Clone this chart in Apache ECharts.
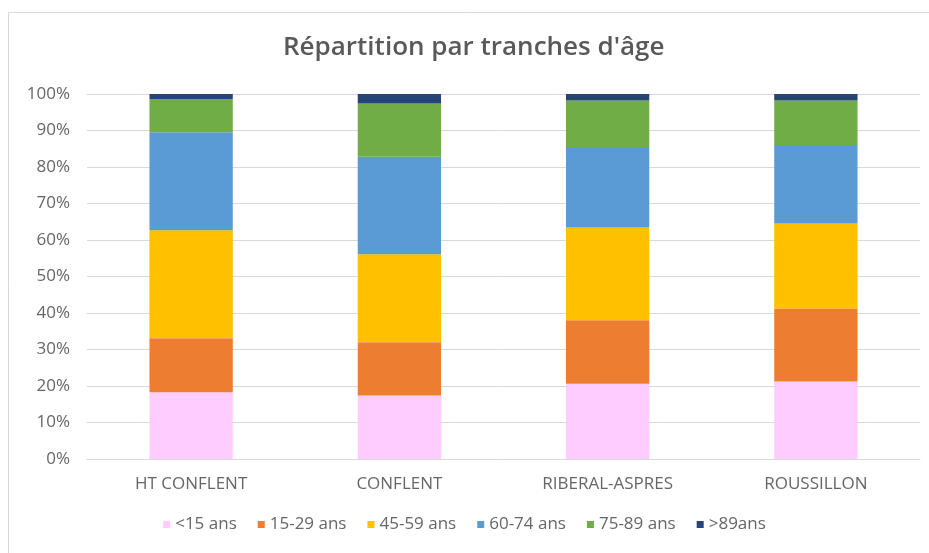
<!DOCTYPE html>
<html><head><meta charset="utf-8">
<script src="https://cdn.jsdelivr.net/npm/echarts@6/dist/echarts.min.js"></script>
<style>html,body{margin:0;padding:0;background:#fff}#c{width:929px;height:553px}</style>
</head><body><div id="c"></div>
<script>
const categories = ['HT CONFLENT', 'CONFLENT', 'RIBERAL-ASPRES', 'ROUSSILLON'];
const seriesNames = ['<15 ans', '15-29 ans', '45-59 ans', '60-74 ans', '75-89 ans', '>89ans'];
const under15 = [18.3, 17.4, 20.6, 21.2];
const age15to29 = [14.8, 14.6, 17.4, 20.0];
const age45to59 = [29.6, 24.1, 25.4, 23.3];
const age60to74 = [26.8, 26.7, 22.1, 21.5];
const age75to89 = [9.1, 14.6, 12.7, 12.2];
const over89 = [1.4, 2.6, 1.8, 1.8];
const colors = ['#FFCCFF', '#ED7D31', '#FFC000', '#5B9BD5', '#70AD47', '#264478'];
const values = [under15, age15to29, age45to59, age60to74, age75to89, over89];

const chart = echarts.init(document.getElementById('c'), null, {renderer: 'canvas'});
const font = 'Open Sans, sans-serif';
chart.setOption({
  animation: false,
  backgroundColor: '#fff',
  title: {
    text: "Répartition par tranches d'âge",
    left: 278, top: 30,
    textStyle: {color: '#595959', fontSize: 26, fontWeight: 600, fontFamily: font}
  },
  graphic: [{
    type: 'rect', shape: {x: 8.5, y: 12.5, width: 940, height: 560},
    style: {fill: 'none', stroke: '#d9d9d9', lineWidth: 1}, silent: true, z: -1
  }],
  legend: {
    bottom: 15, left: 'center', itemWidth: 7, itemHeight: 7, itemGap: 21,
    icon: 'rect',
    textStyle: {color: '#666666', fontSize: 17, fontFamily: font},
    data: seriesNames
  },
  grid: {left: 87, right: 9, top: 94, bottom: 94},
  xAxis: {
    type: 'category', data: categories,
    axisLine: {lineStyle: {color: '#d9d9d9'}},
    axisTick: {show: false},
    axisLabel: {color: '#666666', fontSize: 17, fontFamily: font, margin: 17}
  },
  yAxis: {
    type: 'value', min: 0, max: 100, interval: 10,
    axisLabel: {formatter: '{value}%', color: '#666666', fontSize: 17, fontFamily: font, margin: 17},
    splitLine: {lineStyle: {color: '#d9d9d9'}},
    axisLine: {show: false}, axisTick: {show: false}
  },
  series: seriesNames.map((n, i) => ({
    name: n, type: 'bar', stack: 'total', data: values[i],
    barWidth: '40%', itemStyle: {color: colors[i]}
  }))
});
</script></body></html>
